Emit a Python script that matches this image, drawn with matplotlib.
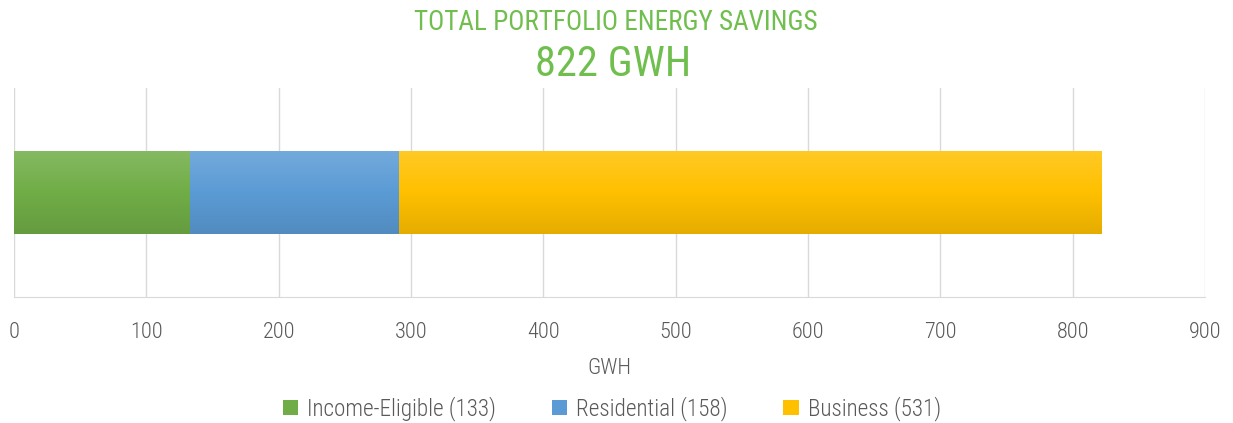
import matplotlib
matplotlib.use("Agg")
import matplotlib.pyplot as plt
import numpy as np
from matplotlib.colors import LinearSegmentedColormap, to_rgb

plt.rcParams['font.family'] = ['Roboto Condensed', 'Barlow Semi Condensed', 'DejaVu Sans']

categories = ["Income-Eligible", "Residential", "Business"]
values = [133, 158, 531]
colors = ["#70AD47", "#5B9BD5", "#FFC000"]
xticks = [0, 100, 200, 300, 400, 500, 600, 700, 800, 900]
title1 = "TOTAL PORTFOLIO ENERGY SAVINGS"
title2 = "822 GWH"
xlabel = "GWH"

fig = plt.figure(figsize=(12.33, 4.23), dpi=100)
ax = fig.add_axes([14/1233, 1-297/423, (1205-14)/1233, (297-88)/423])

left = 0
for cat, v, c in zip(categories, values, colors):
    bars = ax.barh(0, v, left=left, height=0.4, color=c,
                   label=f"{cat} ({v})", zorder=3)
    p = bars.patches[0]
    r, g, b = to_rgb(c)
    light = tuple(min(1, x + (1 - x) * 0.15) for x in (r, g, b))
    dark = tuple(x * 0.9 for x in (r, g, b))
    cmap = LinearSegmentedColormap.from_list("g", [dark, (r, g, b), light])
    grad = np.linspace(0, 1, 100).reshape(-1, 1)
    im = ax.imshow(grad, cmap=cmap, aspect='auto', origin='lower',
                   extent=[left, left + v, -0.2, 0.2], zorder=4)
    im.set_clip_path(p)
    left += v

ax.set_xlim(0, 900)
ax.set_ylim(-0.5, 0.5)
ax.set_xticks(xticks)
ax.set_yticks([])
ax.grid(axis='x', color='#D9D9D9', linewidth=1, zorder=0)
for s in ['top', 'right', 'left']:
    ax.spines[s].set_visible(False)
ax.spines['bottom'].set_color('#D9D9D9')
ax.tick_params(axis='x', length=0, pad=18, labelsize=16, labelcolor='#595959')
for t in ax.get_xticklabels():
    t.set_fontweight('light')
ax.set_xlabel(xlabel, fontsize=16, color='#595959', labelpad=11, fontweight='light')

fig.text(616/1233, 1-22/423, title1, ha='center', va='center',
         fontsize=19.5, color='#70BF4E')
fig.text(613/1233, 1-65/423, title2, ha='center', va='center',
         fontsize=30.5, color='#70BF4E')

leg = fig.legend(loc='center', bbox_to_anchor=(612/1233, 1-409/423), ncol=3,
                 frameon=False, handlelength=0.65, handleheight=0.65,
                 handletextpad=0.4, columnspacing=2.4, labelcolor='#595959',
                 prop={'weight': 'light', 'size': 16.7})

fig.savefig("out.png", dpi=100)
